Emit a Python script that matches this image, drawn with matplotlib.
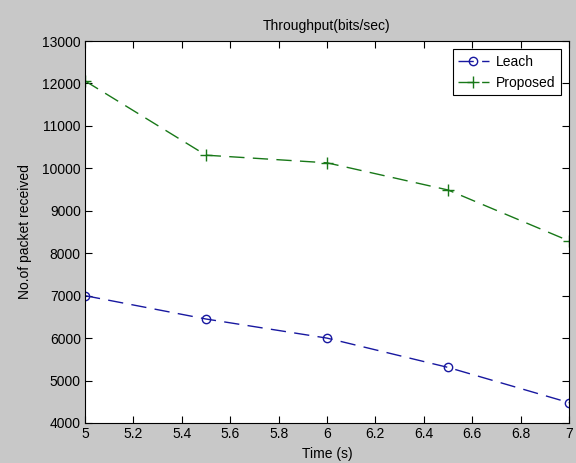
import matplotlib
matplotlib.use("Agg")
import matplotlib.pyplot as plt

# data
time_s = [5, 5.5, 6, 6.5, 7]
leach = [7000, 6450, 6000, 5310, 4480]
proposed = [12060, 10310, 10130, 9490, 8290]

xticks = [5, 5.2, 5.4, 5.6, 5.8, 6, 6.2, 6.4, 6.6, 6.8, 7]
xticklabels = ["5", "5.2", "5.4", "5.6", "5.8", "6", "6.2", "6.4", "6.6", "6.8", "7"]
yticks = [4000, 5000, 6000, 7000, 8000, 9000, 10000, 11000, 12000, 13000]

plt.rcParams['font.family'] = ['Liberation Sans', 'DejaVu Sans']
plt.rcParams['font.size'] = 10

fig = plt.figure(figsize=(5.76, 4.63), dpi=100, facecolor='#c8c8c8')
ax = fig.add_axes([85/576, 40/463, 484/576, 382/463])

ax.plot(time_s, leach, color='#1818a0', linestyle=(0, (11, 6)), linewidth=1,
        marker='o', markersize=6, markerfacecolor='none', markeredgewidth=1, label='Leach')
ax.plot(time_s, proposed, color='#187818', linestyle=(0, (11, 6)), linewidth=1,
        marker='+', markersize=8, markeredgewidth=1, label='Proposed')

ax.set_xlim(5, 7)
ax.set_ylim(4000, 13000)
ax.set_xticks(xticks)
ax.set_xticklabels(xticklabels)
ax.set_yticks(yticks)
ax.tick_params(direction='in', top=True, right=True, length=5, width=0.8, pad=3)
for s in ax.spines.values():
    s.set_linewidth(0.8)

ax.set_title("Throughput(bits/sec)", fontsize=10, pad=8)
ax.set_xlabel("Time (s)", labelpad=4)
ax.set_ylabel("No.of packet received", labelpad=7)

leg = ax.legend(loc='upper right', fancybox=False, framealpha=1, edgecolor='black',
                handlelength=2.2, borderaxespad=0.6, handletextpad=0.5, borderpad=0.4)
leg.get_frame().set_linewidth(0.8)

fig.savefig("out.png", dpi=100, facecolor=fig.get_facecolor())
